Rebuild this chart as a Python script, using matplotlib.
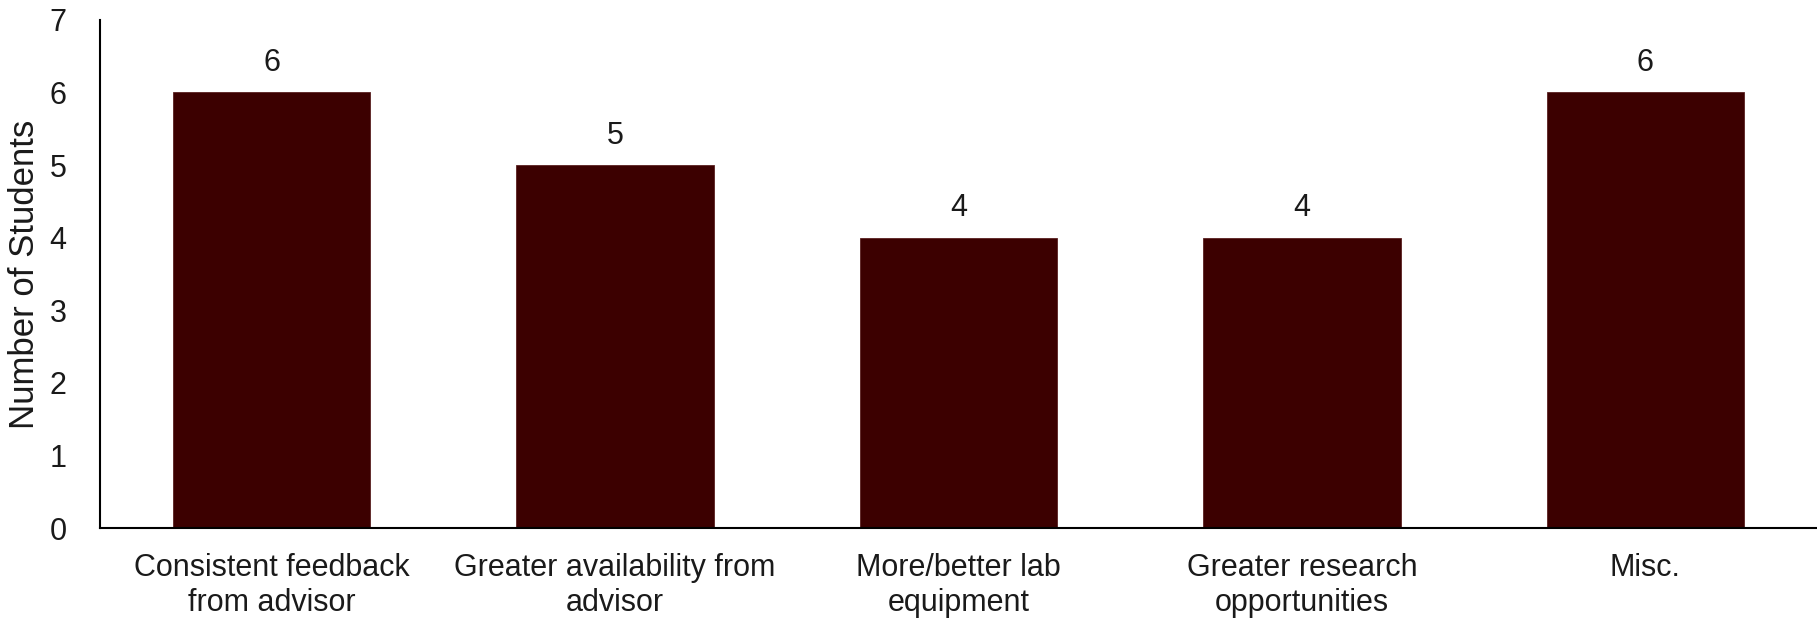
import matplotlib
matplotlib.use("Agg")
import matplotlib.pyplot as plt

categories = ["Consistent feedback\nfrom advisor", "Greater availability from\nadvisor",
              "More/better lab\nequipment", "Greater research\nopportunities", "Misc."]
values = [6, 5, 4, 4, 6]
yticks = [0, 1, 2, 3, 4, 5, 6, 7]

plt.rcParams['font.family'] = ['Liberation Sans', 'DejaVu Sans']

fig = plt.figure(figsize=(18.17, 6.2), dpi=100)
ax = fig.add_axes([0.055, 0.148, 0.945, 0.82])
x = list(range(len(categories)))
bars = ax.bar(x, values, width=0.575, color="#3C0000", edgecolor="#5a2020", linewidth=0.6)
for xi, v in zip(x, values):
    ax.text(xi, v + 0.2, str(v), ha="center", va="bottom", fontsize=22, color="#1a1a1a")
ax.set_xlim(-0.5, 4.5)
ax.set_ylim(0, 7)
ax.set_yticks(yticks)
ax.set_xticks(x)
ax.set_xticklabels(categories, fontsize=22, color="#1a1a1a", linespacing=1.2)
ax.tick_params(axis="y", labelsize=22, length=0, pad=24, labelcolor="#1a1a1a")
ax.tick_params(axis="x", length=0, pad=18)
ax.set_ylabel("Number of Students", fontsize=25, color="#1a1a1a", labelpad=6)
for s in ["top", "right"]:
    ax.spines[s].set_visible(False)
ax.spines["left"].set_linewidth(1.5)
ax.spines["bottom"].set_linewidth(1.5)
fig.savefig("out.png", dpi=100)
